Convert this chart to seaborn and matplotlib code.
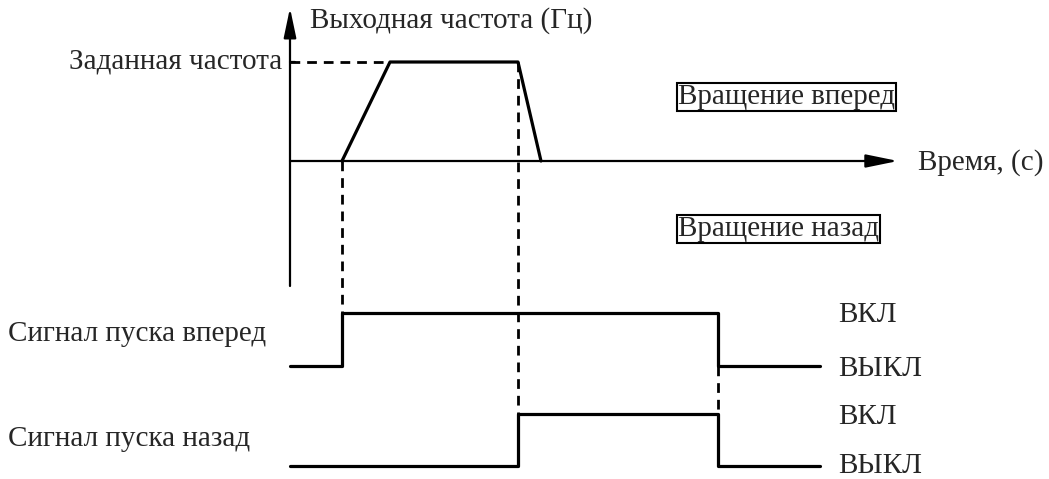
import matplotlib
matplotlib.use("Agg")
import matplotlib.pyplot as plt
import seaborn as sns
import pandas as pd

sns.set_theme(style="white")
plt.rcParams['font.family'] = ['Liberation Serif', 'DejaVu Serif']

# ---- data (time in diagram units, levels in diagram units) ----
t_start = 290
t_fwd_on = 342
t_accel_end = 390
t_rev_on = 518
t_decel_end = 541
t_off = 718
t_end = 820
t_axis_end = 898

f_zero = 161
f_set = 62

freq_t = [t_start, t_fwd_on, t_accel_end, t_rev_on, t_decel_end]
freq_v = [f_zero, f_zero, f_set, f_set, f_zero]

fwd_low, fwd_high = 366, 313
rev_low, rev_high = 466, 414
fwd_t = [t_start, t_fwd_on, t_fwd_on, t_off, t_off, t_end]
fwd_v = [fwd_low, fwd_low, fwd_high, fwd_high, fwd_low, fwd_low]
rev_t = [t_start, t_rev_on, t_rev_on, t_off, t_off, t_end]
rev_v = [rev_low, rev_low, rev_high, rev_high, rev_low, rev_low]

y_label = "Выходная частота (Гц)"
x_label = "Время, (с)"
set_label = "Заданная частота"
fwd_box = "Вращение вперед"
rev_box = "Вращение назад"
fwd_sig = "Сигнал пуска вперед"
rev_sig = "Сигнал пуска назад"
on_lbl = "ВКЛ"
off_lbl = "ВЫКЛ"

fig = plt.figure(figsize=(10.49, 4.79), dpi=100)
ax = fig.add_axes([0, 0, 1, 1])
ax.set_xlim(0, 1049)
ax.set_ylim(479, 0)
ax.axis("off")

lw_main = 2.3
lw_axis = 1.6
fs = 21

# axes arrows
ax.annotate("", xy=(t_start, 8), xytext=(t_start, 286),
            arrowprops=dict(arrowstyle="-|>,head_length=1.8,head_width=0.38",
                            mutation_scale=10,
                            color="black", lw=lw_axis, shrinkA=0, shrinkB=0))
ax.annotate("", xy=(t_axis_end, f_zero), xytext=(t_start, f_zero),
            arrowprops=dict(arrowstyle="-|>,head_length=1.95,head_width=0.4",
                            mutation_scale=10,
                            color="black", lw=lw_axis, shrinkA=0, shrinkB=0))

# frequency trapezoid
df_f = pd.DataFrame({"t": freq_t[1:], "v": freq_v[1:]})
sns.lineplot(data=df_f, x="t", y="v", sort=False, estimator=None, ax=ax,
             color="black", lw=lw_main)

# signals
df_fwd = pd.DataFrame({"t": fwd_t, "v": fwd_v})
df_rev = pd.DataFrame({"t": rev_t, "v": rev_v})
sns.lineplot(data=df_fwd, x="t", y="v", sort=False, estimator=None, ax=ax,
             color="black", lw=lw_main)
sns.lineplot(data=df_rev, x="t", y="v", sort=False, estimator=None, ax=ax,
             color="black", lw=lw_main)

# dashed guides
dash = dict(color="black", lw=2.0, ls=(0, (3.5, 2.5)))
ax.plot([t_start, t_accel_end], [f_set, f_set], **dash)
ax.plot([t_fwd_on, t_fwd_on], [f_zero, fwd_high], **dash)
ax.plot([t_rev_on, t_rev_on], [f_set, rev_high], **dash)
ax.plot([t_off, t_off], [fwd_low, rev_high], **dash)
ax.plot([t_start, t_start + 5], [f_set, f_set], color="black", lw=lw_axis)

ax.set_xlabel("")
ax.set_ylabel("")

# texts
ax.text(310, 21, y_label, fontsize=fs, va="center", ha="left")
ax.text(282, 61, set_label, fontsize=fs, va="center", ha="right")
ax.text(918, 163, x_label, fontsize=fs, va="center", ha="left")
box = dict(boxstyle="square,pad=0.04", fc="white", ec="black", lw=1.5)
ax.text(678, 97, fwd_box, fontsize=fs, va="center", ha="left", bbox=box)
ax.text(678, 229, rev_box, fontsize=fs, va="center", ha="left", bbox=box)
ax.text(8, 334, fwd_sig, fontsize=fs, va="center", ha="left")
ax.text(8, 439, rev_sig, fontsize=fs, va="center", ha="left")
ax.text(838, 315, on_lbl, fontsize=fs, va="center", ha="left")
ax.text(838, 369, off_lbl, fontsize=fs, va="center", ha="left")
ax.text(838, 417, on_lbl, fontsize=fs, va="center", ha="left")
ax.text(838, 466, off_lbl, fontsize=fs, va="center", ha="left")

fig.savefig("out.png", dpi=100, facecolor="white")
